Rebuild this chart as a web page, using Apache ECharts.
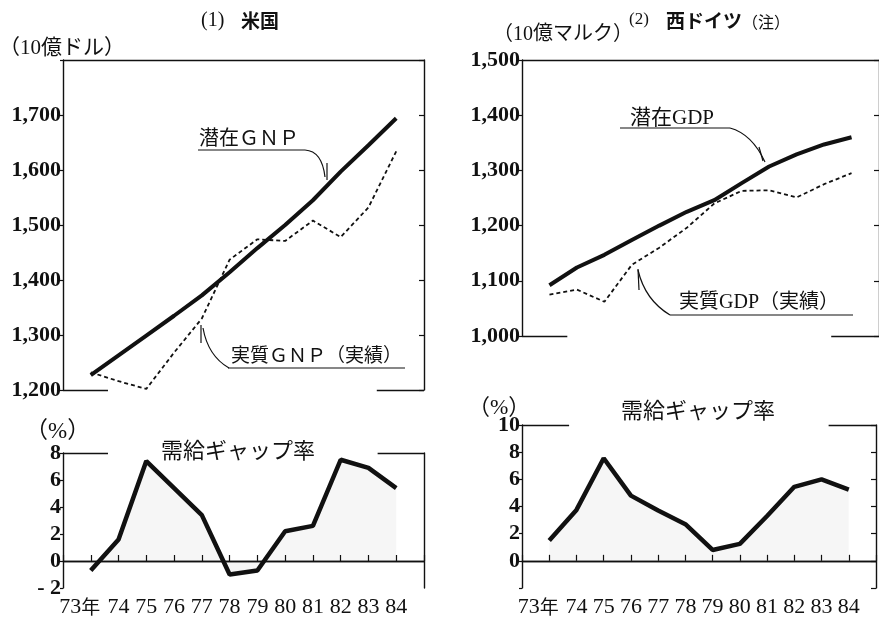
<!DOCTYPE html>
<html><head><meta charset="utf-8">
<script src="https://cdn.jsdelivr.net/npm/echarts@6/dist/echarts.min.js"></script>
<style>html,body{margin:0;padding:0;background:#fff}#c{width:879px;height:618px}</style>
</head><body><div id="c"></div>
<script>
const years = [73,74,75,76,77,78,79,80,81,82,83,84];
const usPotential = [1227,1263,1299,1335,1372,1414,1458,1500,1545,1597,1645,1694];
const usActual    = [1232,1216,1202,1268,1330,1437,1474,1471,1508,1478,1532,1634];
const dePotential = [1092,1124,1147,1174,1200,1225,1246,1277,1307,1329,1347,1360];
const deActual    = [1075,1084,1062,1129,1160,1196,1240,1263,1264,1251,1275,1295];
const usGap = [-0.7,1.6,7.4,5.4,3.4,-1.0,-0.7,2.2,2.6,7.5,6.9,5.4];
const deGap = [1.5,3.75,7.55,4.8,3.7,2.7,0.8,1.25,3.3,5.45,6.0,5.25];
const xLabels = ['73','74','75','76','77','78','79','80','81','82','83','84'];
const firstSuffix = '年';

const SERIF = "'Liberation Serif','Noto Sans CJK JP',serif";
const CJK = "'Noto Sans CJK JP','Liberation Serif',sans-serif";
const INK = '#111';
const pairs = (arr) => years.map((y,i)=>[y,arr[i]]);

function comma(v){ return Math.floor(v/1000)+','+String(v%1000).padStart(3,'0'); }

function frameLines(segs){
  return {silent:true, symbol:['none','none'], animation:false,
    label:{show:false}, emphasis:{disabled:true},
    lineStyle:{type:'solid', color:INK, width:1.4},
    data: segs.map(s=>[{coord:[s[0],s[2]]},{coord:[s[1],s[2]]}])};
}

const xBase = (gi, showLabels) => ({
  type:'value', gridIndex:gi, min:72, max:85, interval:1,
  axisLine:{show:showLabels, lineStyle:{color:INK,width:1.4}},
  axisTick:{show:showLabels, inside:true, length:6, lineStyle:{color:INK,width:1.2}},
  splitLine:{show:false},
  axisLabel:{show:showLabels, margin:8, color:INK, fontFamily:SERIF, fontSize:22,
    rich:{p:{width:22}, b:{fontSize:19, fontFamily:CJK, color:INK}},
    formatter:(v)=>{ if(v<73||v>84) return ''; const s = xLabels[v-73]; return v===73 ? s+'{b|'+firstSuffix+'}{p|}' : s; }}
});

const yLeft = (gi,min,max,interval,fmt,fs) => ({
  type:'value', gridIndex:gi, min, max, interval, position:'left',
  axisLine:{show:true, lineStyle:{color:INK,width:1.4}},
  axisTick:{show:true, inside:false, length:3, lineStyle:{color:INK,width:1.2}},
  splitLine:{show:false},
  axisLabel:{margin:2, color:INK, fontFamily:SERIF, fontSize:fs, fontWeight:'bold', formatter:fmt}
});
const yRight = (gi,min,max,interval,ticks) => ({
  type:'value', gridIndex:gi, min, max, interval, position:'right',
  axisLine:{show:true, lineStyle:{color:INK,width:1.4}},
  axisTick:{show:ticks, inside:true, length:5, lineStyle:{color:INK,width:1.2}},
  splitLine:{show:false}, axisLabel:{show:false}
});

const option = {
  animation:false,
  backgroundColor:'#fff',
  grid:[
    {left:63, top:60, width:361, height:330},
    {left:522, top:60, width:361, height:276},
    {left:63, top:453, width:361, height:139},
    {left:522, top:425, width:361, height:167}
  ],
  xAxis:[ xBase(0,false), xBase(1,false), xBase(2,true), xBase(3,true) ],
  yAxis:[
    yLeft(0,1200,1800,100,(v)=>v===1800?'':comma(v),22),
    yLeft(1,1000,1500,100,(v)=>comma(v),22),
    yLeft(2,-2,8,2,(v)=>v<0?'- '+(-v):String(v),22),
    yLeft(3,-2,10,2,(v)=>v<0?'':String(v),22),
    yRight(0,1200,1800,100,true),
    yRight(1,1000,1500,100,true),
    yRight(2,-2,8,2,false),
    yRight(3,-2,10,2,true)
  ],
  series:[
    {type:'line', xAxisIndex:0, yAxisIndex:0, data:pairs(usPotential), symbol:'none',
     lineStyle:{color:INK,width:4},
     markLine: frameLines([[72,85,1800],[72,73.62,1200],[83.3,85,1200]])},
    {type:'line', xAxisIndex:0, yAxisIndex:0, data:pairs(usActual), symbol:'none',
     lineStyle:{color:INK,width:1.8,type:[4,3]}},
    {type:'line', xAxisIndex:1, yAxisIndex:1, stack:'de', data:pairs(deActual), symbol:'none',
     lineStyle:{opacity:0}, silent:true},
    {type:'line', xAxisIndex:1, yAxisIndex:1, stack:'de', data:years.map((y,i)=>[y,dePotential[i]-deActual[i]]), symbol:'none',
     lineStyle:{opacity:0}, areaStyle:{color:'rgba(0,0,0,0.07)'}, silent:true},
    {type:'line', xAxisIndex:1, yAxisIndex:1, data:pairs(dePotential), symbol:'none',
     lineStyle:{color:INK,width:4},
     markLine: frameLines([[72,85,1500],[72,73.65,1000],[83.26,85,1000]])},
    {type:'line', xAxisIndex:1, yAxisIndex:1, data:pairs(deActual), symbol:'none',
     lineStyle:{color:INK,width:1.8,type:[4,3]}},
    {type:'line', xAxisIndex:2, yAxisIndex:2, data:pairs(usGap), symbol:'none',
     lineStyle:{color:INK,width:4.5}, areaStyle:{color:'rgba(0,0,0,0.05)', origin:0},
     markLine: frameLines([[72,73.62,8],[83.33,85,8],[72,85,0]])},
    {type:'line', xAxisIndex:3, yAxisIndex:3, data:pairs(deGap), symbol:'none',
     lineStyle:{color:INK,width:4.5}, areaStyle:{color:'rgba(0,0,0,0.05)', origin:0},
     markLine: frameLines([[72,73.73,10],[83.26,85,10],[72,85,0]])}
  ],
  graphic:[
    {type:'text', x:201, y:21, style:{text:'(1)', font:'20px '+SERIF, fill:INK, textVerticalAlign:'middle'}},
    {type:'text', x:241, y:21, style:{text:'米国', font:'bold 19px '+CJK, fill:INK, textVerticalAlign:'middle'}},
    {type:'text', x:629, y:20, style:{text:'(2)', font:'17px '+SERIF, fill:INK, textVerticalAlign:'middle'}},
    {type:'text', x:666, y:21, style:{text:'西ドイツ', font:'bold 19px '+CJK, fill:INK, textVerticalAlign:'middle'}},
    {type:'text', x:742, y:22, style:{text:'（注）', font:'16px '+CJK, fill:INK, textVerticalAlign:'middle'}},
    {type:'text', x:-1, y:48, style:{text:'（10億ドル）', font:'21px '+SERIF, fill:INK, textVerticalAlign:'middle'}},
    {type:'text', x:493, y:35, style:{text:'（10億マルク）', font:'20px '+SERIF, fill:INK, textVerticalAlign:'middle'}},
    {type:'text', x:25, y:432, style:{text:'（%）', font:'23px '+SERIF, fill:INK, textVerticalAlign:'middle'}},
    {type:'text', x:468, y:408, style:{text:'（%）', font:'22px '+SERIF, fill:INK, textVerticalAlign:'middle'}},
    {type:'text', x:161, y:450, style:{text:'需給ギャップ率', font:'22px '+CJK, fill:INK, textVerticalAlign:'middle'}},
    {type:'text', x:621, y:410, style:{text:'需給ギャップ率', font:'22px '+CJK, fill:INK, textVerticalAlign:'middle'}},
    {type:'text', x:199, y:137, style:{text:'潜在ＧＮＰ', font:'20px '+CJK, fill:INK, textVerticalAlign:'middle'}},
    {type:'line', shape:{x1:198,y1:150,x2:305,y2:150}, style:{stroke:INK,lineWidth:1.2}},
    {type:'bezierCurve', shape:{x1:305,y1:150,cpx1:322,cpy1:151,x2:325,y2:177}, style:{stroke:INK,lineWidth:1.2,fill:null}},
    {type:'line', shape:{x1:327,y1:163,x2:327,y2:180}, style:{stroke:INK,lineWidth:1.2}},
    {type:'text', x:231, y:355, style:{text:'実質ＧＮＰ（実績）', font:'19px '+CJK, fill:INK, textVerticalAlign:'middle'}},
    {type:'line', shape:{x1:228,y1:368,x2:405,y2:368}, style:{stroke:INK,lineWidth:1.2}},
    {type:'bezierCurve', shape:{x1:229,y1:368,cpx1:208,cpy1:356,x2:203,y2:328}, style:{stroke:INK,lineWidth:1.2,fill:null}},
    {type:'line', shape:{x1:201,y1:325,x2:201,y2:343}, style:{stroke:INK,lineWidth:1.2}},
    {type:'text', x:630, y:118, style:{text:'潜在GDP', font:'21px '+SERIF, fill:INK, textVerticalAlign:'middle'}},
    {type:'line', shape:{x1:620,y1:128,x2:730,y2:128}, style:{stroke:INK,lineWidth:1.2}},
    {type:'bezierCurve', shape:{x1:730,y1:128,cpx1:752,cpy1:134,x2:765,y2:162}, style:{stroke:INK,lineWidth:1.2,fill:null}},
    {type:'line', shape:{x1:759,y1:147,x2:763,y2:161}, style:{stroke:INK,lineWidth:1.2}},
    {type:'text', x:679, y:303, style:{text:'実質GDP（実績）', font:'20px '+SERIF, fill:INK, textVerticalAlign:'middle'}},
    {type:'line', shape:{x1:670,y1:315,x2:853,y2:315}, style:{stroke:INK,lineWidth:1.2}},
    {type:'bezierCurve', shape:{x1:670,y1:315,cpx1:645,cpy1:300,x2:638,y2:270}, style:{stroke:INK,lineWidth:1.2,fill:null}},
    {type:'line', shape:{x1:638,y1:269,x2:639,y2:290}, style:{stroke:INK,lineWidth:1.2}}
  ]
};
const chart = echarts.init(document.getElementById('c'), null, {renderer:'canvas'});
chart.setOption(option);
</script></body></html>
